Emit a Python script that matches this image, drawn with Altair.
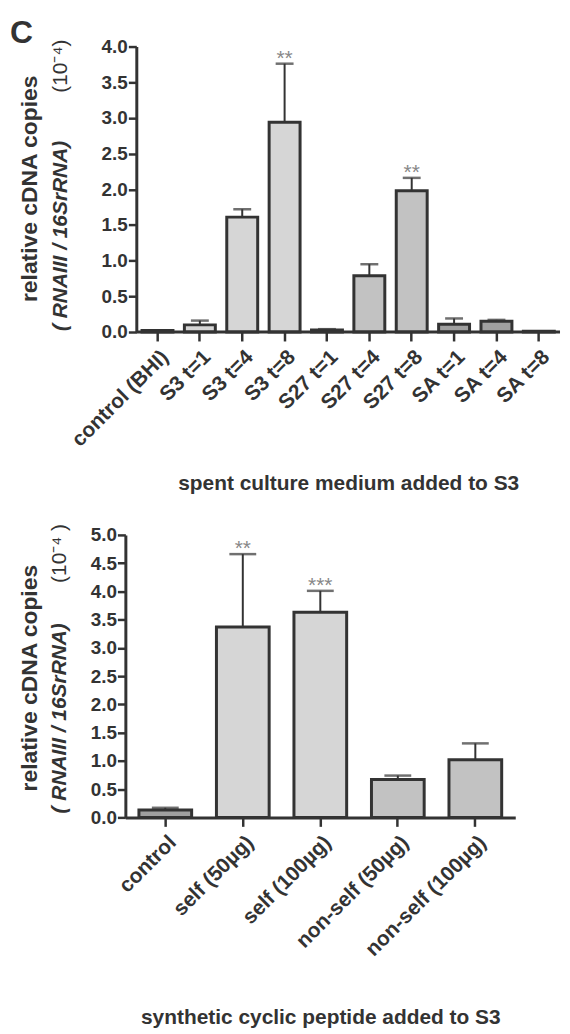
import altair as alt
import pandas as pd

FONT = "Liberation Sans"
INK = "#333333"

# ---------------- data ----------------
top_cats = ["control (BHI)", "S3 t=1", "S3 t=4", "S3 t=8", "S27 t=1",
            "S27 t=4", "S27 t=8", "SA t=1", "SA t=4", "SA t=8"]
top_vals = [0.02, 0.10, 1.61, 2.94, 0.03, 0.79, 1.98, 0.11, 0.15, 0.01]
top_errs = [0.02, 0.16, 1.72, 3.76, 0.04, 0.95, 2.16, 0.19, 0.17, 0.01]
top_groups = ["control", "S3", "S3", "S3", "S27", "S27", "S27", "SA", "SA", "SA"]
top_stars = ["", "", "", "**", "", "", "**", "", "", ""]
top_ticks = [0.0, 0.5, 1.0, 1.5, 2.0, 2.5, 3.0, 3.5, 4.0]

bot_cats = ["control", "self (50µg)", "self (100µg)", "non-self (50µg)", "non-self (100µg)"]
bot_vals = [0.13, 3.37, 3.63, 0.67, 1.02]
bot_errs = [0.17, 4.66, 4.01, 0.74, 1.31]
bot_groups = ["dotted", "self", "self", "nonself", "nonself"]
bot_stars = ["", "**", "***", "", ""]
bot_ticks = [0.0, 0.5, 1.0, 1.5, 2.0, 2.5, 3.0, 3.5, 4.0, 4.5, 5.0]

group_names = ["control", "S3", "S27", "SA", "dotted", "self", "nonself"]
group_fills = ["#dedede", "#d6d6d6", "#c2c2c2", "#a0a0a0", "#a0a0a0", "#d6d6d6", "#c2c2c2"]

top_df = pd.DataFrame({"cat": top_cats, "val": top_vals, "err": top_errs,
                       "grp": top_groups, "star": top_stars})
bot_df = pd.DataFrame({"cat": bot_cats, "val": bot_vals, "err": bot_errs,
                       "grp": bot_groups, "star": bot_stars})
one = pd.DataFrame({"a": [0]})

fill_scale = alt.Scale(domain=group_names, range=group_fills)


def label(text, x, y, size, weight="bold", style="normal", angle=0, align="center",
          baseline="middle", color=INK):
    return alt.Chart(one).mark_text(
        text=text, font=FONT, fontSize=size, fontWeight=weight, fontStyle=style,
        angle=angle, align=align, baseline=baseline, color=color
    ).encode(x=alt.value(x), y=alt.value(y))


def panel(df, cats, ticks, ymax, xrange, pin, pout, axis_offset,
          xtitle, title_x, title_pad, cap, draw_domain):
    if xrange is not None:
        xs = alt.Scale(domain=cats, range=xrange, paddingInner=pin, paddingOuter=pout)
    else:
        xs = alt.Scale(domain=cats, paddingInner=pin, paddingOuter=pout)
    x_axis = alt.Axis(
        title=xtitle, labelAngle=-45, labelFont=FONT, labelFontSize=21,
        labelFontWeight="bold", labelColor=INK, labelPadding=5, labelOverlap=False,
        tickSize=9, tickWidth=2.5, tickColor=INK,
        domain=draw_domain, domainWidth=3, domainColor=INK,
        titleFont=FONT, titleFontSize=21, titleFontWeight="bold", titleColor=INK,
        titlePadding=title_pad, titleX=title_x,
    )
    y_axis = alt.Axis(
        title=None, values=ticks, format=".1f", offset=axis_offset,
        labelFont=FONT, labelFontSize=19, labelFontWeight="bold", labelColor=INK,
        labelPadding=1, labelOverlap=False, labelFlush=False,
        tickSize=8, tickWidth=2.5, tickColor=INK,
        domainWidth=3, domainColor=INK, grid=False,
    )
    ys = alt.Scale(domain=[0, ymax], nice=False, zero=True)
    base = alt.Chart(df)
    xe = alt.X("cat:N", scale=xs, axis=x_axis, sort=cats)
    bars = base.mark_bar(stroke=INK, strokeWidth=3).encode(
        x=xe,
        y=alt.Y("val:Q", scale=ys, axis=y_axis),
        fill=alt.Fill("grp:N", scale=fill_scale, legend=None),
    )
    rules = base.mark_rule(color=INK, strokeWidth=2).encode(
        x=xe, y=alt.Y("val:Q", scale=ys, axis=y_axis), y2="err:Q"
    )
    caps = base.mark_tick(color=INK, thickness=2.5, size=cap).encode(
        x=xe, y=alt.Y("err:Q", scale=ys, axis=y_axis)
    )
    stars = base.mark_text(font=FONT, fontSize=21, color="#888888",
                           baseline="alphabetic", dy=1).encode(
        x=xe, y=alt.Y("err:Q", scale=ys, axis=y_axis), text="star:N"
    )
    return [bars, rules, caps, stars]


# ---------------- top panel ----------------
TW, TH = 437, 287
top_layers = panel(top_df, top_cats, top_ticks, 4.0, [11, TW], 0.27, 0.135, -11,
                   "spent culture medium added to S3", 224, 23, 18, False)
top_base = alt.Chart(one).mark_rule(color=INK, strokeWidth=3).encode(
    x=alt.value(11), x2=alt.value(TW), y=alt.value(TH))
top_text = [
    label("C", -116, -4, 32, baseline="alphabetic", align="left"),
    label("relative cDNA copies", -96, 143, 23, angle=270),
    label("( RNAIII / 16SrRNA)", -65, 286, 21, style="italic", angle=270, align="left"),
    label("(10\u207b\u2074)", -65, -7, 21, weight="normal", angle=270, align="right"),
]
top = alt.layer(*top_layers, top_base, *top_text).properties(width=TW, height=TH)

# ---------------- bottom panel ----------------
BW, BH = 392, 284
bot_layers = panel(bot_df, bot_cats, bot_ticks, 5.0, None, 0.32, 0.175, 0,
                   "synthetic cyclic peptide added to S3", BW / 2, 47, 27, True)
bot_text = [
    label("relative cDNA copies", -96, 144, 23, angle=270),
    label("( RNAIII / 16SrRNA)", -66, 280, 21, style="italic", angle=270, align="left"),
    label("(10\u207b\u2074 )", -66, -11, 21, weight="normal", angle=270, align="right"),
]
bottom = alt.layer(*bot_layers, *bot_text).properties(width=BW, height=BH)

chart = alt.vconcat(top, bottom, spacing=30).properties(
    padding={"left": 2, "top": 6, "right": 0, "bottom": 0},
    background="white",
).configure_view(strokeWidth=0)

chart.save("out.html", embed_options={"renderer": "svg", "actions": False})
